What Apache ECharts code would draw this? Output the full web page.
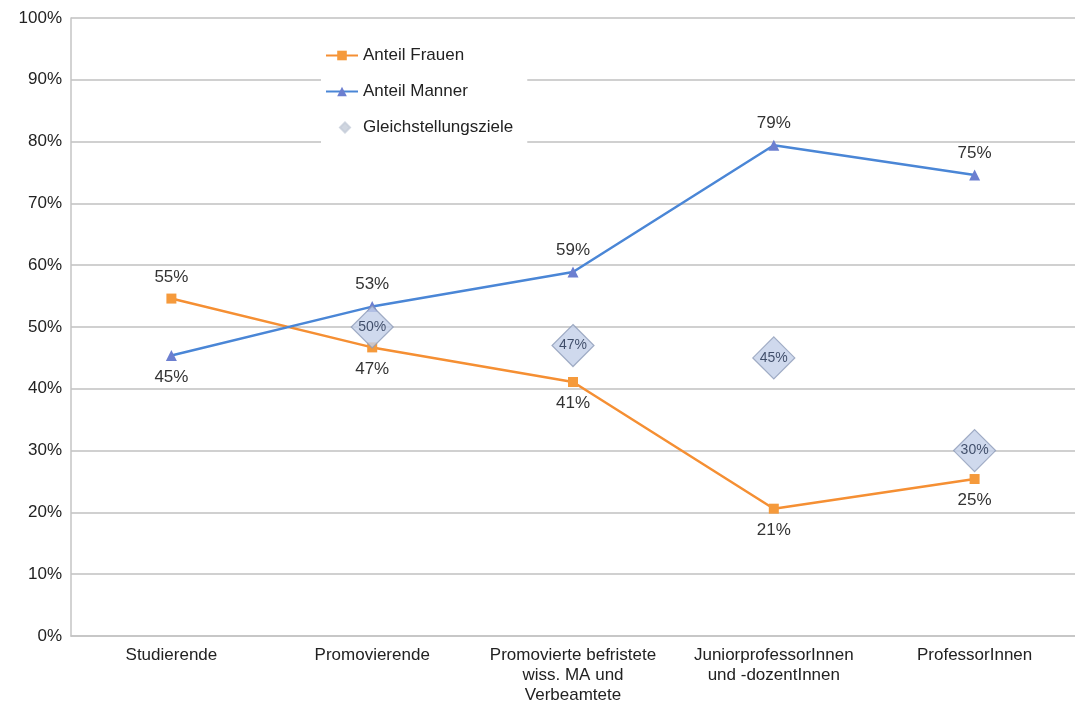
<!DOCTYPE html>
<html><head><meta charset="utf-8">
<script src="https://cdn.jsdelivr.net/npm/echarts@6/dist/echarts.min.js"></script>
<style>html,body{margin:0;padding:0;background:#fff;overflow:hidden;}#c{width:1075px;height:705px;}</style>
</head><body><div id="c"></div>
<script>
const categories = ['Studierende', 'Promovierende', 'Promovierte befristete\nwiss. MA und\nVerbeamtete', 'JuniorprofessorInnen\nund -dozentInnen', 'ProfessorInnen'];
const frauen = [54.6, 46.7, 41.1, 20.6, 25.4];
const maenner = [45.4, 53.3, 58.9, 79.4, 74.6];
const ziele = [null, 50, 47, 45, 30];
const frauenLabelPos = ['top', 'bottom', 'bottom', 'bottom', 'bottom'];
const maennerLabelPos = ['bottom', 'top', 'top', 'top', 'top'];
const yTicks = [0, 10, 20, 30, 40, 50, 60, 70, 80, 90, 100];

const chart = echarts.init(document.getElementById('c'), null, {renderer: 'canvas'});
const font = 'Liberation Sans, Arial, sans-serif';
const pct = p => Math.round(p.value) + '%';
chart.setOption({
  animation: false,
  textStyle: {fontFamily: font},
  grid: {left: 71, top: 18, width: 1014, height: 619, containLabel: false},
  legend: {
    orient: 'vertical', left: 321, top: 41, itemGap: 19, itemWidth: 32, itemHeight: 12,
    backgroundColor: '#fff', padding: [6, 14, 8, 4],
    textStyle: {fontSize: 17, color: '#222', fontFamily: font},
    data: [
      {name: 'Anteil Frauen'},
      {name: 'Anteil Manner'},
      {name: 'Gleichstellungsziele', icon: 'path://M0,0M32,12M19,1L24,6L19,11L14,6Z', itemStyle: {color: '#c4ccd8', borderColor: '#c4ccd8'}}
    ]
  },
  xAxis: {
    type: 'category', data: categories, boundaryGap: true,
    axisLine: {lineStyle: {color: '#c4c4c4', width: 1.5}},
    axisTick: {alignWithLabel: true, length: 5, lineStyle: {color: '#c4c4c4'}},
    axisLabel: {fontSize: 17, color: '#222', lineHeight: 20, margin: 9, interval: 0, fontFamily: font}
  },
  yAxis: {
    type: 'value', min: 0, max: 100, interval: 10,
    axisLine: {show: true, lineStyle: {color: '#c4c4c4', width: 1.5}},
    axisTick: {show: false},
    splitLine: {lineStyle: {color: '#c0c0c0', width: 1.5}},
    axisLabel: {formatter: v => yTicks.includes(v) ? v + '%' : '', fontSize: 17, color: '#222', margin: 9, fontFamily: font}
  },
  series: [
    {
      name: 'Anteil Frauen', type: 'line', z: 3,
      data: frauen.map((v, i) => ({value: v, label: {position: frauenLabelPos[i]}})),
      symbol: 'rect', symbolSize: 10,
      lineStyle: {color: '#f58f33', width: 2.5},
      itemStyle: {color: '#f59a3c'},
      label: {show: true, formatter: pct, fontSize: 17, color: '#333', distance: 8, fontFamily: font}
    },
    {
      name: 'Anteil Manner', type: 'line', z: 3,
      data: maenner.map((v, i) => ({value: v, label: {position: maennerLabelPos[i]}})),
      symbol: 'triangle', symbolSize: 11,
      lineStyle: {color: '#4a86d6', width: 2.5},
      itemStyle: {color: '#6c7fd0'},
      label: {show: true, formatter: pct, fontSize: 17, color: '#333', distance: 8, fontFamily: font}
    },
    {
      name: 'Gleichstellungsziele', type: 'scatter', z: 4,
      data: ziele,
      symbol: 'diamond', symbolSize: [42, 42],
      itemStyle: {color: '#c3cfe8', borderColor: '#8d9bb8', borderWidth: 1.2},
      label: {show: true, position: 'inside', formatter: pct, fontSize: 14, color: '#1c2a48', fontFamily: font}
    }
  ]
});
</script></body></html>
